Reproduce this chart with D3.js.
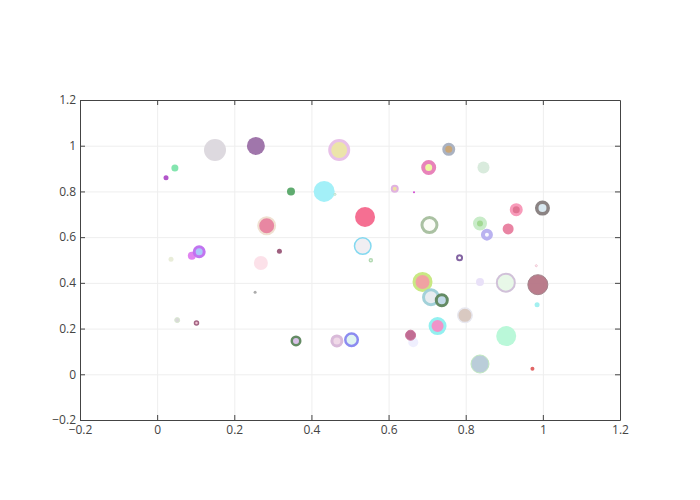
<!DOCTYPE html>
<html>
<head>
<meta charset="utf-8">
<script src="https://cdn.jsdelivr.net/npm/d3@7"></script>
<style>
  body { margin: 0; background: #fff; }
  .axis text { font-family: "Open Sans", sans-serif; font-size: 12px; fill: #444; }
  .axis line, .axis path { stroke: #444; }
  .grid line { stroke: #eee; }
  .grid path { display: none; }
</style>
</head>
<body>
<div id="graph"></div>
<script>
// bubble data
var xValues = [0.150, 0.046, 0.023, 0.256, 0.090, 0.109, 0.036, 0.269, 0.254, 0.052,
  0.102, 0.472, 0.347, 0.433, 0.461, 0.539, 0.284, 0.317, 0.533, 0.554,
  0.616, 0.666, 0.704, 0.706, 0.756, 0.846, 0.931, 0.999, 0.837, 0.855,
  0.910, 0.784, 0.983, 0.837, 0.904, 0.987, 0.985, 0.798, 0.905, 0.837,
  0.973, 0.688, 0.710, 0.738, 0.727, 0.664, 0.657, 0.360, 0.466, 0.504];
var yValues = [0.981, 0.902, 0.860, 0.999, 0.519, 0.536, 0.503, 0.487, 0.359, 0.237,
  0.224, 0.981, 0.800, 0.800, 0.787, 0.688, 0.650, 0.538, 0.561, 0.499,
  0.812, 0.796, 0.905, 0.653, 0.984, 0.905, 0.720, 0.727, 0.660, 0.611,
  0.636, 0.510, 0.475, 0.404, 0.401, 0.392, 0.304, 0.258, 0.167, 0.045,
  0.024, 0.404, 0.337, 0.324, 0.211, 0.140, 0.171, 0.146, 0.146, 0.151];
var markerSizes = [22, 7, 5, 18, 8, 10, 5, 14, 3, 5,
  4, 19, 8, 21, 2, 20, 17, 5, 16.5, 3,
  6, 2, 11, 15, 10, 12, 10, 11.5, 10, 8,
  11, 5, 2, 8, 18, 20, 5, 14.5, 20, 18,
  4, 17, 15, 11, 15, 10, 10, 8.5, 10, 12.5];
var fillColors = ['#dcd8de', '#80e4ac', '#b050c8', '#9d72a8', '#e080f0', '#a8c8f8', '#e8ecd8', '#fce0e8', '#a8a8a8', '#d8d8d8',
  '#f0c0d0', '#ece4a8', '#5aa86a', '#a0f0f8', '#f4fbf6', '#f56a8e', '#e8849f', '#9b5a7a', '#f0eef2', '#f8fff8',
  '#f0e0a0', '#d040d0', '#eef8a0', '#fbfcf8', '#c8a474', '#d8eadc', '#e07090', '#d8e8f0', '#a0d890', '#f8f8ff',
  '#e880a0', '#ffffff', '#ffffff', '#e8e0f8', '#e8f8e8', '#b87888', '#a0f0f0', '#d8c8c0', '#b8f8d8', '#b8ccd8',
  '#e06060', '#f0a0a0', '#e8ecf0', '#c0d8e8', '#f090c8', '#eeeefe', '#c06890', '#d8c0e8', '#f0d8e8', '#e0f4f0'];
var lineColors = ['none', 'none', 'none', 'none', 'none', '#c070f0', 'none', 'none', 'none', '#d8e8d0',
  '#a06080', '#e8c0e8', 'none', 'none', '#b8e0c8', 'none', '#f0e0d0', 'none', '#80d8f0', '#b0d8b0',
  '#e0b0e0', 'none', '#e880b8', '#a8c0a0', '#a8b0c0', 'none', '#f898b8', '#888080', '#c8ecc8', '#b8b0f0',
  'none', '#8060a0', '#f0c0d0', 'none', '#d0c0d8', '#a08088', 'none', '#e8e8f0', 'none', '#c0e8c0',
  'none', '#c8e880', '#a0d0d8', '#608860', '#90f0f0', 'none', '#c87098', '#608860', '#d8b8d8', '#8888f0'];
var lineWidths = [0, 0, 0, 0, 0, 3, 0, 0, 0, 1,
  1.5, 3, 0, 0, 1, 0, 2, 0, 1.5, 1.5,
  2, 0, 4, 3, 3, 0, 3, 3.5, 4, 4,
  0, 2, 1, 0, 2, 1, 0, 1.5, 0, 1,
  0, 3, 3, 3, 3, 0, 1, 2.5, 3, 2.5];

var xTicks = [-0.2, 0, 0.2, 0.4, 0.6, 0.8, 1, 1.2];
var yTicks = [-0.2, 0, 0.2, 0.4, 0.6, 0.8, 1, 1.2];

var margin = {top: 100, right: 80, bottom: 80, left: 80},
  width = 700 - margin.left - margin.right,
  height = 500 - margin.top - margin.bottom;

var x = d3.scaleLinear().domain([-0.2, 1.2]).range([0, width]);
var y = d3.scaleLinear().domain([-0.2, 1.2]).range([height, 0]);
var fmt = d3.format('~g');

var svg = d3.select('#graph')
  .append('svg')
  .attr('width', width + margin.left + margin.right)
  .attr('height', height + margin.top + margin.bottom)
  .append('g')
  .attr('transform', 'translate(' + margin.left + ',' + margin.top + ')');

// grid
svg.append('g')
  .attr('class', 'grid')
  .call(d3.axisBottom(x).tickValues(xTicks).tickSize(height).tickFormat(''));
svg.append('g')
  .attr('class', 'grid')
  .call(d3.axisLeft(y).tickValues(yTicks).tickSize(-width).tickFormat(''));

// bubbles
var data = xValues.map(function (d, i) {
  return {x: d, y: yValues[i], size: markerSizes[i], fill: fillColors[i], line: lineColors[i], lw: lineWidths[i]};
});

svg.append('defs').append('clipPath').attr('id', 'plot-clip')
  .append('rect').attr('width', width).attr('height', height);

svg.append('g')
  .attr('clip-path', 'url(#plot-clip)')
  .selectAll('circle')
  .data(data)
  .enter()
  .append('circle')
  .attr('cx', function (d) { return x(d.x); })
  .attr('cy', function (d) { return y(d.y); })
  .attr('r', function (d) { return d.size / 2; })
  .style('fill', function (d) { return d.fill; })
  .style('stroke', function (d) { return d.line; })
  .style('stroke-width', function (d) { return d.lw; })
  .style('opacity', 0.97);

// axes with inside ticks, mirrored on top and right
svg.append('g')
  .attr('class', 'axis')
  .attr('transform', 'translate(0,' + height + ')')
  .call(d3.axisBottom(x).tickValues(xTicks).tickFormat(fmt).tickSizeInner(-5).tickSizeOuter(0).tickPadding(5));
svg.append('g')
  .attr('class', 'axis')
  .call(d3.axisLeft(y).tickValues(yTicks).tickFormat(fmt).tickSizeInner(-5).tickSizeOuter(0).tickPadding(4));
svg.append('g')
  .attr('class', 'axis')
  .call(d3.axisTop(x).tickValues(xTicks.slice(1, -1)).tickFormat('').tickSizeInner(-5).tickSizeOuter(0));
svg.append('g')
  .attr('class', 'axis')
  .attr('transform', 'translate(' + width + ',0)')
  .call(d3.axisRight(y).tickValues(yTicks.slice(1, -1)).tickFormat('').tickSizeInner(-5).tickSizeOuter(0));
</script>
</body>
</html>
